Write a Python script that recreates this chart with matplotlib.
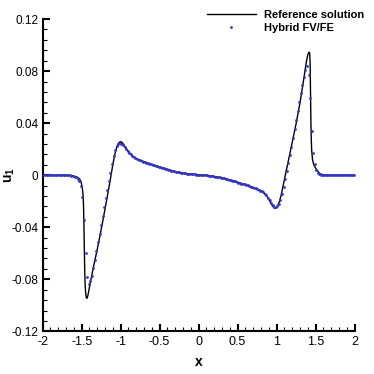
import numpy as np
import matplotlib
matplotlib.use('Agg')
import matplotlib.pyplot as plt
from matplotlib.ticker import MultipleLocator

plt.rcParams['font.family'] = ['Liberation Sans', 'DejaVu Sans']
plt.rcParams['axes.unicode_minus'] = False
plt.rcParams['mathtext.fontset'] = 'custom'
plt.rcParams['mathtext.rm'] = 'Liberation Sans'
plt.rcParams['mathtext.bf'] = 'Liberation Sans:bold'

# Reference solution (black line)
x_ref = [-2.00, -1.70, -1.65, -1.60, -1.56, -1.53, -1.51, -1.50, -1.49, -1.48,
         -1.475, -1.47, -1.465, -1.46, -1.455, -1.45, -1.445, -1.44, -1.435, -1.43,
         -1.42, -1.41, -1.40, -1.38, -1.35, -1.30, -1.25, -1.20, -1.15, -1.12,
         -1.10, -1.08, -1.06, -1.04, -1.02, -1.00, -0.98, -0.96, -0.94, -0.92,
         -0.90, -0.87, -0.85, -0.80, -0.75, -0.70, -0.65, -0.60, -0.55, -0.50,
         -0.45, -0.40, -0.35, -0.30, -0.25, -0.20, -0.15, -0.10, -0.05, 0.00,
         0.05, 0.10, 0.15, 0.20, 0.25, 0.30, 0.35, 0.40, 0.45, 0.50,
         0.55, 0.60, 0.65, 0.70, 0.75, 0.80, 0.83, 0.86, 0.89, 0.92,
         0.95, 0.97, 0.98, 1.00, 1.02, 1.04, 1.06, 1.08, 1.10, 1.12,
         1.15, 1.20, 1.25, 1.30, 1.35, 1.38, 1.40, 1.41, 1.42, 1.425,
         1.43, 1.435, 1.44, 1.445, 1.45, 1.46, 1.47, 1.48, 1.50, 1.52,
         1.54, 1.56, 1.60, 1.65, 1.70, 2.00]
u_ref = [0.0, 0.0, -0.0002, -0.0006, -0.0014, -0.0026, -0.0045, -0.0070, -0.0105, -0.0160,
         -0.0250, -0.0400, -0.0580, -0.0745, -0.0840, -0.0890, -0.0920, -0.0940, -0.0946, -0.0944,
         -0.0925, -0.0895, -0.0862, -0.0800, -0.0710, -0.0570, -0.0420, -0.0260, -0.0095, 0.0010,
         0.0080, 0.0145, 0.0195, 0.0232, 0.0252, 0.0258, 0.0252, 0.0236, 0.0215, 0.0196,
         0.0180, 0.0161, 0.0150, 0.0128, 0.0114, 0.0103, 0.0093, 0.0083, 0.0073, 0.0064,
         0.0054, 0.0044, 0.0035, 0.0027, 0.0022, 0.0016, 0.0012, 0.0009, 0.0007, 0.0004,
         0.0001, -0.0001, -0.0005, -0.0010, -0.0015, -0.0020, -0.0028, -0.0036, -0.0044, -0.0054,
         -0.0064, -0.0073, -0.0083, -0.0094, -0.0106, -0.0120, -0.0130, -0.0148, -0.0175, -0.0208,
         -0.0238, -0.0252, -0.0254, -0.0248, -0.0228, -0.0195, -0.0150, -0.0092, -0.0035, 0.0025,
         0.0108, 0.0250, 0.0395, 0.0555, 0.0744, 0.0865, 0.0925, 0.0940, 0.0946, 0.0935,
         0.0870, 0.0650, 0.0420, 0.0280, 0.0195, 0.0125, 0.0095, 0.0078, 0.0055, 0.0038,
         0.0022, 0.0010, 0.0003, 0.0001, 0.0, 0.0]

# Hybrid FV/FE (dots), one value per cell centre, x = -1.99 ... 1.99
x_fv = np.linspace(-1.99, 1.99, 200)
u_fv = [
    0.0, 0.0, 0.0, 0.0, 0.0, 0.0, 0.0, 0.0, 0.0, 0.0,
    0.0, 0.0, 0.0, 0.0, 0.0, -0.0001, -0.0001, -0.0002, -0.0004, -0.0007,
    -0.0011, -0.0017, -0.0028, -0.0048, -0.0080, -0.0165, -0.0344, -0.0595, -0.0780, -0.0836,
    -0.0815, -0.0775, -0.0716, -0.0650, -0.0582, -0.0515, -0.0448, -0.0380, -0.0312, -0.0245,
    -0.0178, -0.0110, -0.0045, 0.0020, 0.0085, 0.0145, 0.0192, 0.0222, 0.0238, 0.0244,
    0.0240, 0.0232, 0.0218, 0.0200, 0.0186, 0.0172, 0.0160, 0.0149, 0.0139, 0.0131,
    0.0125, 0.0119, 0.0114, 0.0109, 0.0105, 0.0101, 0.0097, 0.0093, 0.0089, 0.0085,
    0.0081, 0.0077, 0.0073, 0.0070, 0.0066, 0.0062, 0.0058, 0.0054, 0.0050, 0.0046,
    0.0042, 0.0038, 0.0035, 0.0032, 0.0029, 0.0026, 0.0024, 0.0022, 0.0020, 0.0018,
    0.0016, 0.0014, 0.0012, 0.0011, 0.0010, 0.0009, 0.0008, 0.0007, 0.0005, 0.0004,
    0.0003, 0.0002, 0.0001, 0.0000, -0.0001, -0.0002, -0.0003, -0.0005, -0.0007, -0.0009,
    -0.0011, -0.0013, -0.0015, -0.0017, -0.0019, -0.0022, -0.0025, -0.0028, -0.0031, -0.0034,
    -0.0037, -0.0041, -0.0044, -0.0048, -0.0052, -0.0056, -0.0060, -0.0064, -0.0068, -0.0071,
    -0.0075, -0.0079, -0.0083, -0.0087, -0.0092, -0.0097, -0.0102, -0.0107, -0.0113, -0.0119,
    -0.0125, -0.0131, -0.0141, -0.0155, -0.0172, -0.0192, -0.0212, -0.0228, -0.0242, -0.0247,
    -0.0240, -0.0222, -0.0192, -0.0148, -0.0090, -0.0027, 0.0033, 0.0094, 0.0155, 0.0220,
    0.0288, 0.0357, 0.0425, 0.0492, 0.0562, 0.0630, 0.0695, 0.0758, 0.0805, 0.0836,
    0.0773, 0.0597, 0.0340, 0.0170, 0.0085, 0.0040, 0.0020, 0.0010, 0.0005, 0.0002,
    0.0, 0.0, 0.0, 0.0, 0.0, 0.0, 0.0, 0.0, 0.0, 0.0,
    0.0, 0.0, 0.0, 0.0, 0.0, 0.0, 0.0, 0.0, 0.0, 0.0,
]

xt = [-2, -1.5, -1, -0.5, 0, 0.5, 1, 1.5, 2]
yt = [-0.12, -0.08, -0.04, 0, 0.04, 0.08, 0.12]

fig = plt.figure(figsize=(3.74, 3.74), dpi=100)
ax = fig.add_axes([0.114, 0.114, 0.834, 0.835])

ax.plot(x_ref, u_ref, color='black', lw=1.0, label='Reference solution', zorder=2)
ax.plot(x_fv, u_fv, ls='none', marker='o', ms=2.0, mew=0, color='#3535c8',
        label='Hybrid FV/FE', zorder=3)

ax.set_xlim(-2, 2)
ax.set_ylim(-0.12, 0.12)
ax.set_xticks(xt)
ax.set_xticklabels(['%g' % v for v in xt])
ax.set_yticks(yt)
ax.set_yticklabels(['%g' % v for v in yt])
ax.xaxis.set_minor_locator(MultipleLocator(0.1))
ax.yaxis.set_minor_locator(MultipleLocator(0.008))

for s in ['top', 'right']:
    ax.spines[s].set_visible(False)
for s in ['left', 'bottom']:
    ax.spines[s].set_linewidth(1.5)
ax.tick_params(which='major', direction='in', length=5, width=1.5, labelsize=9)
ax.tick_params(axis='x', which='major', pad=3)
ax.tick_params(axis='y', which='major', pad=3, labelsize=8.5)
ax.tick_params(which='minor', direction='in', length=3, width=0.8)

ax.set_xlabel('x', fontsize=10, fontweight='bold')
ax.xaxis.set_label_coords(0.5, -0.075)
ax.set_ylabel(r'$\mathbf{u_1}$', fontsize=10, va='center')
ax.yaxis.set_label_coords(-0.105, 0.5)

fig.legend(loc='upper right', bbox_to_anchor=(0.985, 0.985), frameon=False,
           prop={'weight': 'bold', 'size': 8}, handlelength=4.4, handletextpad=0.7,
           labelspacing=0.3, borderaxespad=0, numpoints=1)

fig.savefig('out.png', dpi=100)
